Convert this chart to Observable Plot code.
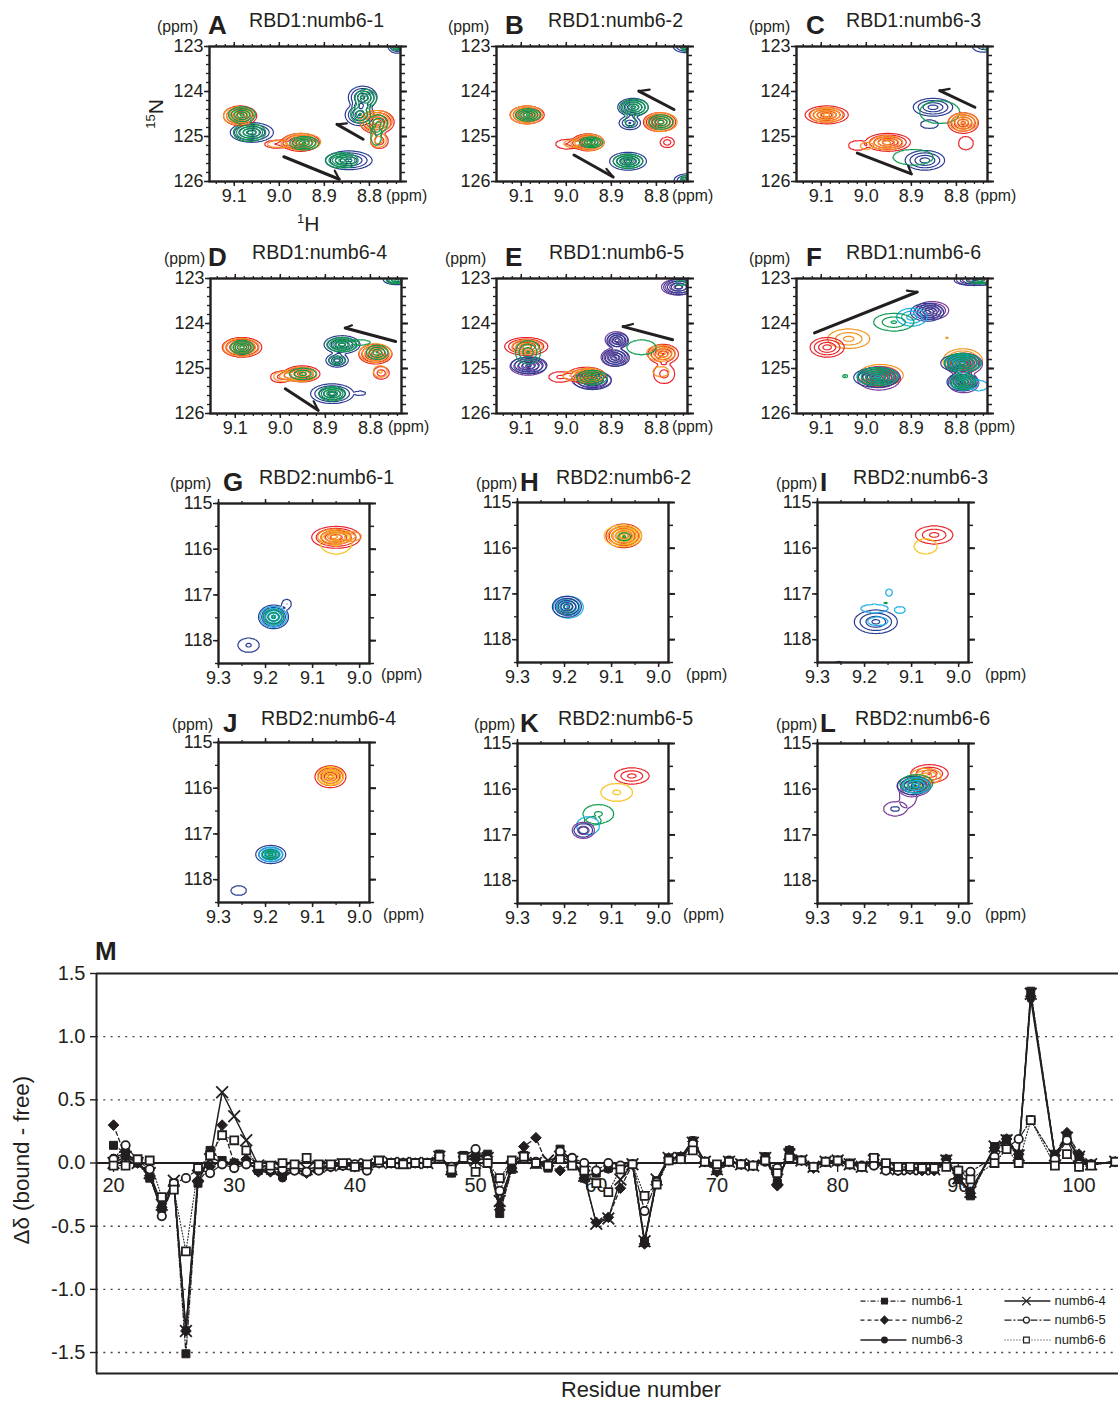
<!DOCTYPE html>
<html><head><meta charset="utf-8">
<script src="https://cdn.jsdelivr.net/npm/d3@7"></script>
<script src="https://cdn.jsdelivr.net/npm/@observablehq/plot@0.6"></script>
<style>
html,body{margin:0;background:#fff}
#page{position:relative;width:1118px;height:1403px;overflow:hidden;font-family:"Liberation Sans",sans-serif;color:#231f20}
#page>*{position:absolute}
.t{white-space:nowrap;line-height:1}
</style></head><body><div id="page"></div>
<script>
// ---- spectrum colours
const inks = {r:"#e8262b", o:"#f6931e", y:"#f9c21a", g:"#0d9a4e", c:"#18aee3", b:"#2b3d92", p:"#7a3a96"};
const levels = [0.2,0.35,0.5,0.65,0.8];

// ---- peaks: ink, 1H ppm, 15N ppm, half width 1H, half width 15N, height
const peaksA = [
 ["b",9.061,124.91,.048,.22,.95],["b",8.846,125.53,.052,.21,.9],["b",8.815,124.13,.032,.25,.9],["b",8.822,124.52,.032,.24,.85],["b",8.739,122.99,.02,.16,.8],
 ["r",9.087,124.54,.037,.22,1],["r",8.953,125.13,.042,.2,1],["r",9.008,125.17,.025,.09,.35],["r",8.783,124.68,.038,.26,1],["r",8.778,125.1,.02,.17,.5],
 ["o",9.09,124.54,.034,.2,.95],["o",8.95,125.12,.042,.19,.95],["o",9.005,125.17,.022,.08,.3],["o",8.785,124.66,.036,.24,.95],["o",8.78,125.08,.018,.16,.5],
 ["g",9.083,124.52,.03,.18,.9],["g",9.066,124.91,.036,.2,.95],["g",8.945,125.15,.032,.15,.9],["g",8.861,125.53,.036,.17,.95],["g",8.808,124.15,.024,.2,.8],["g",8.82,124.5,.022,.2,.7],["g",8.78,124.72,.02,.2,.6],["g",8.785,125.0,.012,.2,.35],["g",8.74,122.97,.014,.12,.7]];
const peaksB = [
 ["b",8.863,125.55,.041,.2,.95],["b",8.852,124.35,.034,.2,.9],["b",8.859,124.7,.024,.15,.7],["b",8.733,123.0,.03,.14,.8],["b",8.733,125.98,.028,.15,.8],
 ["r",9.087,124.52,.038,.2,1],["r",8.952,125.13,.036,.19,1],["r",9.0,125.17,.024,.11,.35],["r",8.793,124.68,.036,.21,1],["r",8.776,125.13,.016,.12,.5],
 ["o",9.088,124.52,.036,.2,.95],["o",8.95,125.13,.034,.18,.95],["o",8.99,125.16,.016,.08,.3],["o",8.79,124.68,.036,.21,.95],
 ["g",9.085,124.52,.028,.14,.9],["g",8.945,125.13,.026,.12,.9],["g",8.863,125.55,.033,.16,.9],["g",8.85,124.35,.032,.18,.9],["g",8.858,124.66,.012,.13,.3],["g",8.79,124.68,.027,.16,.8],["g",8.733,123.0,.012,.12,.7],["g",8.733,125.98,.014,.12,.7]];
const peaksC = [
 ["b",8.87,125.53,.044,.22,.8],["b",8.852,124.35,.044,.2,.8],["b",8.86,124.73,.02,.1,.3],["b",8.74,123.0,.025,.13,.5],
 ["g",8.896,125.46,.045,.18,.33],["g",8.837,124.46,.045,.26,.3],["g",8.735,123.0,.008,.08,.3],
 ["r",9.088,124.52,.048,.2,1],["r",8.952,125.13,.05,.2,1],["r",9.02,125.2,.02,.11,.3],["r",8.785,124.7,.034,.23,.9],["r",8.779,125.15,.017,.15,.3],
 ["o",9.088,124.52,.036,.17,.95],["o",8.955,125.14,.036,.16,.8],["o",9.0,125.21,.014,.08,.28],["o",8.785,124.68,.032,.2,.9]];
const peaksD = [
 ["b",8.885,125.56,.048,.22,.95],["b",8.822,125.55,.012,.05,.3],["b",8.863,124.47,.04,.2,.95],["b",8.874,124.82,.025,.15,.8],["b",8.742,123.02,.03,.12,.7],
 ["r",9.085,124.53,.044,.22,1],["r",8.952,125.12,.04,.18,1],["r",9.0,125.19,.022,.13,.4],["r",8.789,124.68,.037,.22,1],["r",8.776,125.1,.018,.14,.5],
 ["o",9.087,124.53,.04,.2,.95],["o",8.955,125.13,.036,.16,.9],["o",8.995,125.18,.02,.11,.4],["o",8.789,124.66,.036,.21,.95],["o",8.778,125.07,.016,.13,.4],
 ["g",9.085,124.53,.025,.16,.95],["g",8.95,125.12,.03,.13,.6],["g",8.885,125.56,.03,.16,.95],["g",8.863,124.47,.034,.16,.95],["g",8.874,124.82,.018,.1,.5],["g",8.82,124.42,.02,.06,.3],["g",8.785,124.64,.024,.16,.7],["g",8.745,123.03,.02,.09,.7]];
const peaksE = [
 ["p",9.085,124.95,.04,.2,.9],["p",8.944,125.25,.044,.2,.9],["p",8.889,124.36,.025,.18,.8],["p",8.893,124.75,.03,.2,.85],["p",8.752,123.19,.037,.18,.8],
 ["b",9.083,124.93,.04,.19,.9],["b",8.942,125.27,.042,.2,.9],["b",8.886,124.38,.024,.17,.8],["b",8.89,124.76,.03,.19,.85],["b",8.75,123.19,.034,.17,.8],
 ["r",9.089,124.51,.048,.2,1],["r",8.956,125.15,.042,.18,.9],["r",9.015,125.19,.024,.12,.4],["r",8.785,124.68,.034,.22,.85],["r",8.783,125.12,.024,.22,.45],
 ["o",9.087,124.52,.034,.16,.8],["o",8.95,125.15,.034,.16,.9],["o",8.99,125.16,.018,.1,.3],["o",8.79,124.66,.032,.18,.85],["o",8.79,125.07,.018,.12,.28],
 ["g",9.085,124.64,.028,.26,.7],["g",8.943,125.2,.034,.16,.85],["g",8.833,124.53,.033,.17,.3],["g",8.745,123.1,.012,.06,.3]];
const peaksF = [
 ["o",9.039,124.34,.047,.22,.6],["o",8.968,125.15,.05,.24,1],["o",8.786,124.83,.044,.27,1],["o",8.821,124.32,.003,.02,.4],
 ["r",9.087,124.53,.038,.22,.8],["r",8.972,125.19,.046,.22,1],["r",8.784,124.88,.036,.22,1],["r",8.784,125.3,.03,.17,.9],
 ["p",8.854,123.71,.037,.2,.95],["p",8.972,125.22,.048,.26,.95],["p",8.784,124.9,.042,.24,.95],["p",8.784,125.32,.034,.22,.9],["p",8.755,123.03,.045,.13,.7],
 ["b",8.865,123.75,.037,.2,.95],["b",8.978,125.2,.05,.22,.95],["b",8.79,124.88,.045,.2,.95],["b",8.787,125.3,.034,.2,.9],["b",8.76,123.04,.045,.12,.7],
 ["c",8.899,123.86,.034,.2,.65],["c",8.975,125.18,.046,.2,.9],["c",8.785,124.88,.04,.2,.9],["c",8.785,125.3,.03,.18,.85],["c",8.75,125.38,.02,.12,.3],
 ["g",8.939,123.97,.045,.2,.55],["g",8.975,125.18,.044,.2,.95],["g",9.047,125.17,.006,.04,.4],["g",8.787,124.87,.04,.21,.95],["g",8.785,125.29,.028,.18,.9],["g",8.747,123.04,.03,.08,.6]];
const peaksG = [
 ["r",9.05,115.74,.052,.24,1],["y",9.05,115.86,.034,.25,.4],
 ["o",9.054,115.73,.035,.17,.95],["o",9.014,115.72,.018,.1,.38],
 ["b",9.183,117.48,.032,.26,.9],["b",9.155,117.2,.01,.11,.35],["b",9.236,118.1,.023,.16,.4],
 ["c",9.183,117.48,.029,.23,.9],["g",9.183,117.48,.022,.16,.55]];
const peaksH = [
 ["r",9.074,115.73,.038,.26,1],["y",9.076,115.73,.04,.24,.9],["o",9.074,115.73,.034,.2,.85],["g",9.073,115.75,.014,.09,.4],
 ["c",9.192,117.29,.032,.24,.85],["g",9.193,117.28,.024,.17,.7],["b",9.195,117.28,.031,.23,.95]];
const peaksI = [
 ["r",9.052,115.71,.04,.2,.6],["y",9.07,115.96,.025,.17,.3],
 ["b",9.176,117.61,.046,.26,.75],["b",9.255,118.52,.008,.05,.4],
 ["c",9.172,117.6,.022,.1,.3],["c",9.179,117.32,.03,.1,.25],["c",9.125,117.35,.012,.08,.3],["c",9.148,116.97,.008,.08,.3],["g",9.155,117.2,.004,.015,.5]];
const peaksJ = [
 ["r",9.062,115.75,.033,.24,.95],["o",9.062,115.74,.028,.2,.9],["y",9.062,115.73,.028,.2,.6],
 ["b",9.189,117.45,.032,.2,.9],["c",9.189,117.45,.026,.16,.85],["g",9.189,117.45,.018,.1,.6],["b",9.257,118.24,.017,.11,.3]];
const peaksK = [
 ["r",9.057,115.71,.037,.18,.6],["y",9.089,116.07,.034,.2,.4],["g",9.128,116.54,.033,.21,.4],["g",9.14,116.7,.016,.08,.22],
 ["c",9.15,116.8,.025,.2,.3],["b",9.16,116.9,.02,.15,.5],["p",9.16,116.9,.024,.18,.5]];
const peaksL = [
 ["r",9.062,115.66,.04,.2,.7],["o",9.07,115.72,.033,.18,.7],["y",9.085,115.85,.026,.18,.5],
 ["p",9.135,116.43,.025,.16,.35],["p",9.108,116.2,.018,.2,.25],["p",9.095,115.93,.036,.22,.9],
 ["b",9.135,116.43,.01,.06,.25],["g",9.09,115.88,.035,.2,.8],["b",9.096,115.92,.034,.2,.9],["c",9.09,115.92,.03,.17,.6]];

// ---- titration arrows: shaft start, shaft end, barb tip (ppm)
const arrowsA = [[8.99,125.45,8.867,125.95,8.877,125.76],[8.814,125.06,8.872,124.73,8.85,124.71]];
const arrowsB = [[8.983,125.41,8.896,125.9,8.911,125.72],[8.761,124.4,8.839,123.99,8.815,123.96]];
const arrowsC = [[9.02,125.37,8.9,125.83,8.907,125.65],[8.759,124.35,8.837,123.98,8.815,123.94]];
const arrowsD = [[8.989,125.45,8.916,125.93,8.926,125.73],[8.744,124.4,8.856,124.1,8.841,124.04]];
const arrowsE = [[8.764,124.36,8.874,124.07,8.852,124.01]];
const arrowsF = [[9.115,124.21,8.887,123.3,8.91,123.27]];

// ---- panel titles
const panelLetters = ["A","B","C","D","E","F","G","H","I","J","K","L"];
const panelTitles = ["RBD1:numb6-1","RBD1:numb6-2","RBD1:numb6-3","RBD1:numb6-4","RBD1:numb6-5","RBD1:numb6-6",
                     "RBD2:numb6-1","RBD2:numb6-2","RBD2:numb6-3","RBD2:numb6-4","RBD2:numb6-5","RBD2:numb6-6"];
const panelPeaks = [peaksA,peaksB,peaksC,peaksD,peaksE,peaksF,peaksG,peaksH,peaksI,peaksJ,peaksK,peaksL];
const panelArrows = [arrowsA,arrowsB,arrowsC,arrowsD,arrowsE,arrowsF,[],[],[],[],[],[]];

// ---- page layout of panels: frame left, top; x of (ppm) left, letter, title; x of right (ppm)
const layout = [
 [209,46,157,208,249,386],[496,46,448,505,548,672],[796,46,749,806,846,975],
 [210,278,164,208,252,388],[496,278,445,505,549,672],[796,278,749,806,846,974],
 [218,503,170,223,259,381],[517,502,476,520,556,686],[817,502,776,820,853,985],
 [218,742,172,223,261,383],[517,743,474,520,558,683],[817,743,776,820,855,985]];

// ---- panel M residues and series (null: no marker for that residue)
const residueFirst = 20;
const numb1 = [.14,.08,0,-.12,-.36,-.16,-1.51,-.16,.1,.02,
 0,.01,-.06,-.06,-.1,-.05,-.07,-.05,-.02,-.02,
 -.02,-.03,0,0,0,0,0,.07,-.08,.06,
 .05,.07,-.40,-.05,.06,-.01,-.04,.11,.02,-.12,
 -.08,-.04,-.04,-.01,-.63,-.14,.04,.05,.175,.01,
 -.06,.015,-.01,-.02,.05,-.16,.1,.02,-.03,.01,
 .02,0,-.03,.04,-.04,-.04,-.03,-.04,-.04,.03,
 -.13,-.26,null,.13,.19,.07,1.36,null,.07,.2,
 .05,-.01,null,.01];
const numb2 = [.30,.05,0,-.1,-.35,-.17,-1.33,-.15,-.03,.30,
 0,.03,-.07,-.07,-.07,-.05,-.08,-.05,-.03,-.02,
 -.03,-.03,0,0,0,0,0,.06,-.07,.05,
 .03,.05,-.37,-.04,.13,.20,-.03,-.06,.01,-.12,
 -.47,-.43,-.2,-.01,-.64,-.15,.04,.05,.17,.01,
 -.07,.01,-.01,-.02,.04,-.18,.1,.02,-.04,.01,
 .02,-.01,-.03,.03,-.05,-.06,-.05,-.06,-.06,.03,
 -.12,-.24,null,.12,.19,.07,1.32,null,.06,.24,
 .07,-.01,null,.01];
const numb3 = [.04,.08,0,-.1,-.38,-.17,-1.32,-.15,.05,0,
 -.02,0,-.05,-.06,-.12,-.05,-.07,-.05,-.02,-.02,
 -.02,-.03,0,0,0,0,0,.07,-.06,.06,
 .05,.05,-.34,-.03,.05,0,-.03,.08,.02,-.1,
 -.08,-.05,-.04,-.01,-.61,-.15,.04,.04,.18,.01,
 -.05,.02,-.01,-.02,.05,-.14,.08,.02,-.03,.01,
 .02,0,-.03,.02,-.05,-.06,-.05,-.05,-.05,.02,
 -.12,-.22,null,.11,.17,.06,1.3,null,.05,.2,
 .04,-.01,null,.01];
const numb4 = [0,.05,0,-.08,-.33,-.14,-1.33,-.1,.03,.56,
 .37,.18,-.02,-.03,-.05,-.04,-.05,-.03,-.02,-.01,
 -.01,-.01,.01,0,0,0,0,.05,-.05,.04,
 .02,.04,-.3,-.03,.04,0,.02,.05,.01,-.1,
 -.48,-.44,-.13,-.01,-.62,-.13,.04,.04,.16,.01,
 -.05,.01,-.01,-.02,.04,-.13,.07,.02,-.03,.01,
 .02,-.01,-.03,.02,-.04,-.05,-.05,-.05,-.05,.02,
 -.12,-.23,null,.13,.18,.06,1.34,null,.06,.2,
 .05,-.01,null,.01];
const numb5 = [.03,.14,.02,-.05,-.42,-.16,-.12,-.05,-.08,-.01,
 -.04,-.01,-.03,-.05,-.05,-.06,-.07,-.06,-.03,-.02,
 -.01,-.06,0,0,0,0,0,.05,-.03,.05,
 .11,.03,-.22,.01,.05,.01,-.02,.09,.04,0,
 -.06,0,-.02,-.01,-.38,-.15,.02,.03,.15,.01,
 -.03,.02,-.01,-.02,.01,-.04,.05,.02,-.03,.01,
 .01,-.01,-.02,-.02,-.06,-.06,-.05,-.05,-.05,-.01,
 -.06,-.07,null,.05,.12,.19,.34,null,.03,.18,
 -.01,-.01,null,.01];
const numb6 = [-.02,-.02,.03,.02,-.27,-.21,-.70,-.04,.06,.22,
 .18,.10,-.02,-.02,0,-.01,.04,-.01,-.01,0,
 -.03,-.01,.02,0,-.01,0,0,.05,-.05,.04,
 -.07,0,-.12,.02,.05,0,-.02,.03,-.02,-.06,
 -.16,-.23,-.05,-.01,-.26,-.17,.02,.03,.1,.01,
 -.01,.01,-.01,-.02,.02,-.08,.04,.02,-.03,.01,
 .02,-.01,-.03,.04,0,-.03,-.03,-.04,-.04,-.03,
 -.06,-.13,null,0,.11,0,.34,null,-.02,.07,
 -.03,-.02,null,.01];
const seriesNames = ["numb6-1","numb6-2","numb6-3","numb6-4","numb6-5","numb6-6"];
const seriesValues = [numb1,numb2,numb3,numb4,numb5,numb6];
const residueTicks = [20,30,40,50,60,70,80,90,100];
const deltaTicks = [1.5,1,.5,0,-.5,-1,-1.5];
const gridValues = [1,.5,-.5,-1,-1.5];

// ---- drawing styles of the series
const seriesSymbol = ["square","diamond2","circle","times","circle","square"];
const seriesFill = ["#231f20","#231f20","#231f20","none","white","white"];
const seriesDash = ["5 2 1 2","4 3","none","none","7 2 2 2","1 2"];
const seriesRadius = [4.5,4.8,3.9,5.4,4.2,4.5];
const seriesWidth = [1.3,1.3,1.5,1.5,1.2,1.1];

const page = document.getElementById("page");
const INK = "#231f20";
function text(s, x, y, size, extra = "") {
  const e = document.createElement("div");
  e.className = "t";
  e.style.cssText = `left:${x}px;top:${y}px;font-size:${size}px;${extra}`;
  e.innerHTML = s;
  page.append(e);
}
// height of a contour surface: cone down to the lowest level at r = 1, short tail outside
function surface(rows, x, y) {
  let sum = 0;
  for (const [, cx, cy, rx, ry, a] of rows) {
    const r2 = ((x - cx) / rx) ** 2 + ((y - cy) / ry) ** 2;
    sum += r2 < 1 ? 0.2 + (a - 0.2) * (1 - Math.sqrt(r2)) : 0.2 * Math.exp(-3 * (r2 - 1));
  }
  return sum;
}

function spectrum(i) {
  const wide = i < 6;
  const [L, T, ppmX, letterX, titleX, ppmRX] = layout[i];
  const W = wide ? 191 : 151, H = wide ? 135 : 160;
  const xDomain = wide ? [9.155, 8.731] : [9.3, 8.979];
  const yDomain = wide ? [123, 126] : [115, 118.5];
  const xMajor = wide ? [9.1, 9.0, 8.9, 8.8] : [9.3, 9.2, 9.1, 9.0];
  const xMinor = wide ? d3.range(9.14, 8.73, -0.02) : d3.range(9.3, 8.98, -0.05);
  const yMajor = wide ? [123, 124, 125, 126] : [115, 116, 117, 118];
  const yMinor = wide ? d3.range(123, 126.01, 0.2) : d3.range(115, 118.51, 0.5);
  const peaks = panelPeaks[i], arrows = panelArrows[i];
  const layers = d3.groups(peaks, d => d[0]).map(([ink, rows]) =>
    Plot.contour({
      x1: xDomain[0], x2: xDomain[1], y1: yDomain[0], y2: yDomain[1],
      value: (x, y) => surface(rows, x, y),
      thresholds: levels, stroke: inks[ink], fill: "none", strokeWidth: 1.2, pixelSize: 1
    }));
  const plot = Plot.plot({
    width: W + 60, height: H + 40,
    marginLeft: 40, marginRight: 20, marginTop: 10, marginBottom: 30,
    x: {domain: xDomain}, y: {domain: yDomain, reverse: true},
    style: {fontFamily: '"Liberation Sans",sans-serif', fontSize: "17px", color: INK, background: "transparent", overflow: "visible"},
    marks: [
      ...layers,
      Plot.link(arrows, {x1: d => d[0], y1: d => d[1], x2: d => d[2], y2: d => d[3], stroke: INK, strokeWidth: 3, strokeLinecap: "round"}),
      Plot.link(arrows, {x1: d => d[2], y1: d => d[3], x2: d => d[4], y2: d => d[5], stroke: INK, strokeWidth: 2.2, strokeLinecap: "round"}),
      Plot.axisX({anchor: "bottom", ticks: xMajor, tickSize: 5, tickPadding: 3, tickFormat: ".1f", label: null, stroke: INK, strokeWidth: 1.5, fill: INK, fontSize: 18}),
      Plot.axisX({anchor: "bottom", ticks: xMinor, tickSize: 3, label: null, stroke: INK, strokeWidth: 1.3, fill: "none"}),
      Plot.axisX({anchor: "top", ticks: xMajor, tickSize: 5, label: null, stroke: INK, strokeWidth: 1.5, fill: "none"}),
      Plot.axisX({anchor: "top", ticks: xMinor, tickSize: 3, label: null, stroke: INK, strokeWidth: 1.3, fill: "none"}),
      Plot.axisY({anchor: "left", ticks: yMajor, tickSize: 5, tickPadding: 1, tickFormat: "d", label: null, stroke: INK, strokeWidth: 1.5, fill: INK, fontSize: 18}),
      Plot.axisY({anchor: "left", ticks: yMinor, tickSize: 3, label: null, stroke: INK, strokeWidth: 1.3, fill: "none"}),
      Plot.axisY({anchor: "right", ticks: yMajor, tickSize: 6, label: null, stroke: INK, strokeWidth: 2, fill: "none"}),
      Plot.axisY({anchor: "right", ticks: yMinor, tickSize: 4, label: null, stroke: INK, strokeWidth: 1.5, fill: "none"}),
      Plot.frame({stroke: INK, strokeWidth: 2.4})
    ]
  });
  plot.style.left = (L - 40) + "px";
  plot.style.top = (T - 10) + "px";
  page.append(plot);
  const ty = wide ? (i < 3 ? 11 : 243) : (i < 9 ? 468 : 709);
  text(panelTitles[i], titleX, ty, 19.6);
  text(panelLetters[i], letterX, ty + 1, 26, "font-weight:bold");
  text("(ppm)", ppmX, ty + 8, 15.8);
  const ry = wide ? (i < 3 ? 188 : 419) : (i < 9 ? 667 : 907);
  text("(ppm)", ppmRX, ry, 15.8);
}
panelLetters.forEach((_, i) => spectrum(i));
text("<sup style='font-size:13px;vertical-align:8px'>15</sup>N", 140, 103, 21, "transform:rotate(-90deg);transform-origin:center;");
text("<sup style='font-size:13px;vertical-align:8px'>1</sup>H", 297, 212, 21);

// ---- panel M
const rows = seriesValues.flatMap((vals, s) =>
  vals.map((v, k) => ({residue: residueFirst + k, value: v, s})).filter(d => d.value !== null));
const legendRows = seriesNames.map((name, s) => ({name, s, y: [-1.093, -1.243, -1.401][s % 3], col: s < 3 ? 0 : 1}));
const legendLine = [[81.89, 85.7], [93.82, 97.63]], legendDot = [83.88, 95.64], legendText = [86.11, 97.96];
const seriesMarks = seriesNames.map((_, s) =>
  Plot.line(rows.filter(d => d.s === s), {x: "residue", y: "value", stroke: INK, strokeWidth: seriesWidth[s], strokeDasharray: seriesDash[s]}));
const dotMarks = seriesNames.map((_, s) =>
  Plot.dot(rows.filter(d => d.s === s), {x: "residue", y: "value", symbol: () => seriesSymbol[s], r: seriesRadius[s],
    fill: seriesFill[s], stroke: INK, strokeWidth: s > 2 ? 1.8 : 1}));
const legendMarks = legendRows.flatMap(d => [
  Plot.link([d], {x1: () => legendLine[d.col][0], x2: () => legendLine[d.col][1], y1: "y", y2: "y", stroke: INK, strokeWidth: seriesWidth[d.s], strokeDasharray: seriesDash[d.s]}),
  Plot.dot([d], {x: () => legendDot[d.col], y: "y", symbol: () => seriesSymbol[d.s], r: seriesRadius[d.s] * .72, fill: seriesFill[d.s], stroke: INK, strokeWidth: 1.2}),
  Plot.text([d], {x: () => legendText[d.col], y: "y", text: "name", textAnchor: "start", fontSize: 13, fill: INK})
]);
const chartM = Plot.plot({
  width: 1118, height: 443,
  marginLeft: 96, marginRight: 0, marginTop: 13, marginBottom: 30,
  x: {domain: [18.59, 103.27], axis: null},
  y: {domain: [-1.666, 1.5]},
  style: {fontFamily: '"Liberation Sans",sans-serif', fontSize: "19.5px", color: INK, background: "transparent"},
  marks: [
    Plot.ruleY(gridValues, {stroke: "#444", strokeWidth: 1.4, strokeDasharray: "2 5.3"}),
    Plot.ruleX(residueTicks, {y1: 0, y2: -.075, stroke: INK, strokeWidth: 1.3}),
    Plot.text(residueTicks, {x: d => d, y: 0, dy: 23, text: d => String(d), fill: INK, fontSize: 20}),
    Plot.ruleY([0], {stroke: INK, strokeWidth: 2}),
    Plot.axisY({anchor: "left", ticks: deltaTicks, tickSize: 6, tickPadding: 5, tickFormat: d => d.toFixed(1), label: null, stroke: INK, strokeWidth: 1.4, fill: INK, fontSize: 20}),
    Plot.ruleY([1.5, -1.666], {stroke: INK, strokeWidth: 2}),
    Plot.ruleX([18.59], {stroke: INK, strokeWidth: 2}),
    ...seriesMarks, ...dotMarks, ...legendMarks
  ]
});
chartM.style.left = "0px"; chartM.style.top = "960px";
page.append(chartM);
text("M", 95, 938, 26, "font-weight:bold");
text("Δδ (bound - free)", -73, 1149, 22.3, "transform:rotate(-90deg);width:190px;text-align:center;");
text("Residue number", 561, 1381, 21.8, "line-height:.8;");
</script></body></html>
